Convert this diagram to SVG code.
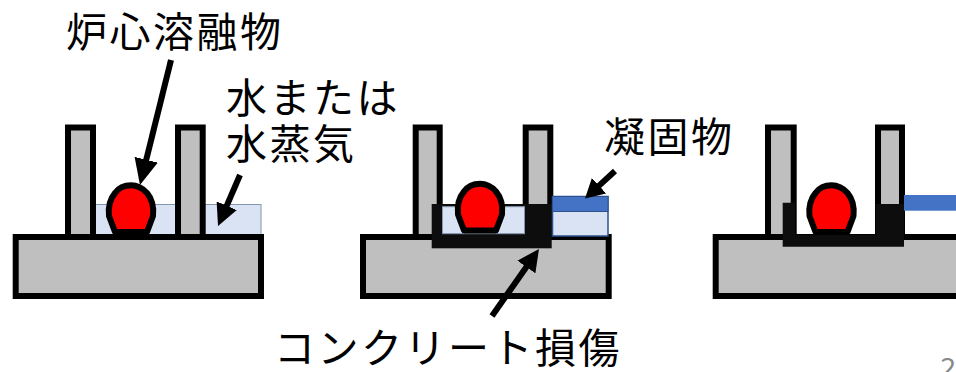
<svg xmlns="http://www.w3.org/2000/svg" width="956" height="372" viewBox="0 0 956 372">
  <style>
    .concrete { fill: #bfbfbf; stroke: #000; stroke-width: 6; }
    .water { fill: #dae3f3; stroke: #8497b0; stroke-width: 1; }
    .eroded { fill: #0d0d0d; }
    .solid { fill: #4472c4; }
    .melt { fill: #ff0000; stroke: #000; stroke-width: 6; stroke-linejoin: round; }
    .label { font-family: "Noto Sans CJK JP", "Noto Sans", sans-serif; font-size: 41px; fill: #000; letter-spacing: 2.5px; }
    .pagenum { font-family: "Noto Sans", "Liberation Sans", sans-serif; font-size: 28px; fill: #898989; }
    .arrow { stroke: #000; stroke-width: 6; fill: none; }
  </style>
  <defs>
    <marker id="head-lg" markerUnits="userSpaceOnUse" viewBox="0 0 26 24" markerWidth="26" markerHeight="24" refX="18" refY="12" orient="auto">
      <path d="M0,0 L26,12 L0,24 Z" fill="#000"/>
    </marker>
    <marker id="head-md" markerUnits="userSpaceOnUse" viewBox="0 0 22 22" markerWidth="22" markerHeight="22" refX="14" refY="11" orient="auto">
      <path d="M0,0 L22,11 L0,22 Z" fill="#000"/>
    </marker>
    <marker id="head-sm" markerUnits="userSpaceOnUse" viewBox="0 0 19 21" markerWidth="19" markerHeight="21" refX="11" refY="10.5" orient="auto">
      <path d="M0,0 L19,10.5 L0,21 Z" fill="#000"/>
    </marker>
    <!-- molten core blob, drawn around x=131 -->
    <path id="blob" class="melt" d="M115,232 L147,232 L153,216 C154,207 152,199 147,193 C142,187.5 137,185.3 131,185.3 C125,185.3 119,187.5 115,193 C110,199 108,207 109,216 Z"/>
  </defs>

  <!-- Stage 1: melt falls into water -->
  <g id="stage1">
    <rect id="stage1-water" class="water" x="94" y="204.5" width="167" height="31"/>
    <rect id="stage1-base" class="concrete" x="15.7" y="237" width="245.3" height="59"/>
    <rect id="stage1-wall-left" class="concrete" x="68" y="127.5" width="25" height="109.5"/>
    <rect id="stage1-wall-right" class="concrete" x="178" y="127.5" width="24.7" height="109.5"/>
    <use id="stage1-melt" href="#blob"/>
  </g>

  <!-- Stage 2: concrete erosion, solidified layer outside -->
  <g id="stage2">
    <rect id="stage2-base" class="concrete" x="363" y="237" width="245.7" height="59"/>
    <rect id="stage2-wall-left" class="concrete" x="415.7" y="127.5" width="24" height="109.5"/>
    <rect id="stage2-wall-right" class="concrete" x="525.7" y="127.5" width="24.6" height="109.5"/>
    <rect id="stage2-erosion" class="eroded" x="431.7" y="204" width="120" height="44.3"/>
    <rect id="stage2-water" class="water" x="442.5" y="206.7" width="82" height="27"/>
    <g id="stage2-outside">
      <rect class="water" x="552.5" y="196.5" width="55.5" height="39.5" style="stroke:#2f528f;stroke-width:1.5"/>
      <rect class="solid" x="552.5" y="196.5" width="55.5" height="15" style="stroke:#2f528f;stroke-width:1"/>
    </g>
    <use id="stage2-melt" href="#blob" transform="translate(349,-1.5)"/>
  </g>

  <!-- Stage 3: water gone, erosion continues -->
  <g id="stage3">
    <rect id="stage3-base" class="concrete" x="715.7" y="237" width="245" height="59"/>
    <rect id="stage3-wall-left" class="concrete" x="768" y="127.5" width="25.7" height="109.5"/>
    <rect id="stage3-wall-right" class="concrete" x="878" y="127.5" width="24" height="109.5"/>
    <path id="stage3-erosion" class="eroded" d="M782.7,202.7 H795 V235 H876 V204 H904 V246.7 H782.7 Z"/>
    <rect id="stage3-solid" class="solid" x="904" y="195" width="60" height="15.7"/>
    <use id="stage3-melt" href="#blob" transform="translate(700.5,0)"/>
  </g>

  <!-- Labels -->
  <g id="labels">
    <text id="label-melt" class="label" x="66" y="47">炉心溶融物</text>
    <text id="label-water" class="label" x="226" y="113">水または</text>
    <text id="label-steam" class="label" x="226" y="159">水蒸気</text>
    <text id="label-solid" class="label" x="604" y="152">凝固物</text>
    <text id="label-damage" class="label" x="274" y="363">コンクリート損傷</text>
    <text id="page-number" class="pagenum" x="940" y="378">2</text>
  </g>

  <!-- Connectors -->
  <g id="connectors">
    <line class="arrow" x1="171" y1="60" x2="141.9" y2="177.2" marker-end="url(#head-lg)"/>
    <line class="arrow" x1="240" y1="175" x2="221.2" y2="218.6" marker-end="url(#head-md)"/>
    <line class="arrow" x1="615" y1="171" x2="590.9" y2="193.1" marker-end="url(#head-sm)"/>
    <line class="arrow" x1="492" y1="316" x2="534.4" y2="255.5" marker-end="url(#head-md)"/>
  </g>
</svg>
